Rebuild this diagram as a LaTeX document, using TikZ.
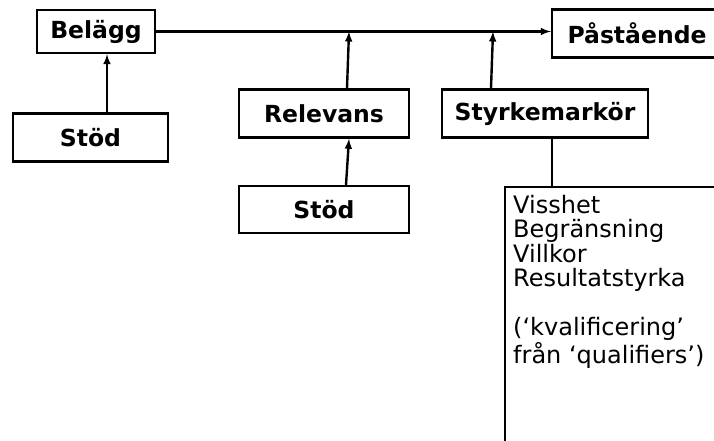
\documentclass[tikz,border=0pt]{standalone}
\usepackage{fontspec}
\setmainfont{DejaVu Sans}
\usetikzlibrary{arrows,positioning}

\begin{document}
\begin{tikzpicture}[x=1pt,y=-1pt,
  box/.style={draw,line width=2.4pt,inner sep=0pt,minimum height=48pt,
    font=\bfseries\fontsize{23.5}{27}\selectfont},
  link/.style={-latex,line width=2.4pt}]
\useasboundingbox (0,0) rectangle (714,441);
\clip (0,0) rectangle (714,441);

% boxes
\node[box,minimum width=118pt,minimum height=43pt] (belagg) at (96,31.5) {Belägg};
\node[box,minimum width=170pt] (pastaende) at (637,33.5) {Påstående};
\node[box,minimum width=155pt] (stod) at (90.5,137.5) {Stöd};
\node[box,minimum width=170pt] (relevans) at (324,113.5) {Relevans};
\node[box,minimum width=170pt,minimum height=47pt] (stodrel) at (324,209.5) {Stöd};
\node[box,minimum width=206pt] (styrka) at (545,113.5) {Styrkemarkör};
\node[draw,line width=2.4pt,anchor=north west,minimum width=240pt,minimum height=280pt] (kval) at (504,186) {};
\node[anchor=north west,align=left,inner sep=0pt,font=\fontsize{24}{24.5}\selectfont] (kvaltext)
  at ([xshift=9pt,yshift=-9pt]kval.north west)
  {Visshet\\Begränsning\\Villkor\\Resultatstyrka\\[24.5pt](‘kvalificering’\\från ‘qualifiers’)};

% connectors
\draw[link] (belagg.east) -- (belagg.east -| pastaende.west);
\draw[link] ([xshift=16.5pt]stod.north) -- ([xshift=16.5pt]stod.north |- belagg.south);
\draw[link] ([xshift=23pt]relevans.north) -- ([xshift=25pt]relevans.north |- belagg.east);
\draw[link] ([xshift=22pt]stodrel.north) -- ([xshift=25pt]relevans.south);
\draw[link] ([xshift=-54pt]styrka.north) -- ([xshift=-52pt]styrka.north |- belagg.east);
\draw[line width=2.4pt] ([xshift=7pt]styrka.south) -- ([xshift=7pt]styrka.south |- kval.north);
\end{tikzpicture}
\end{document}
